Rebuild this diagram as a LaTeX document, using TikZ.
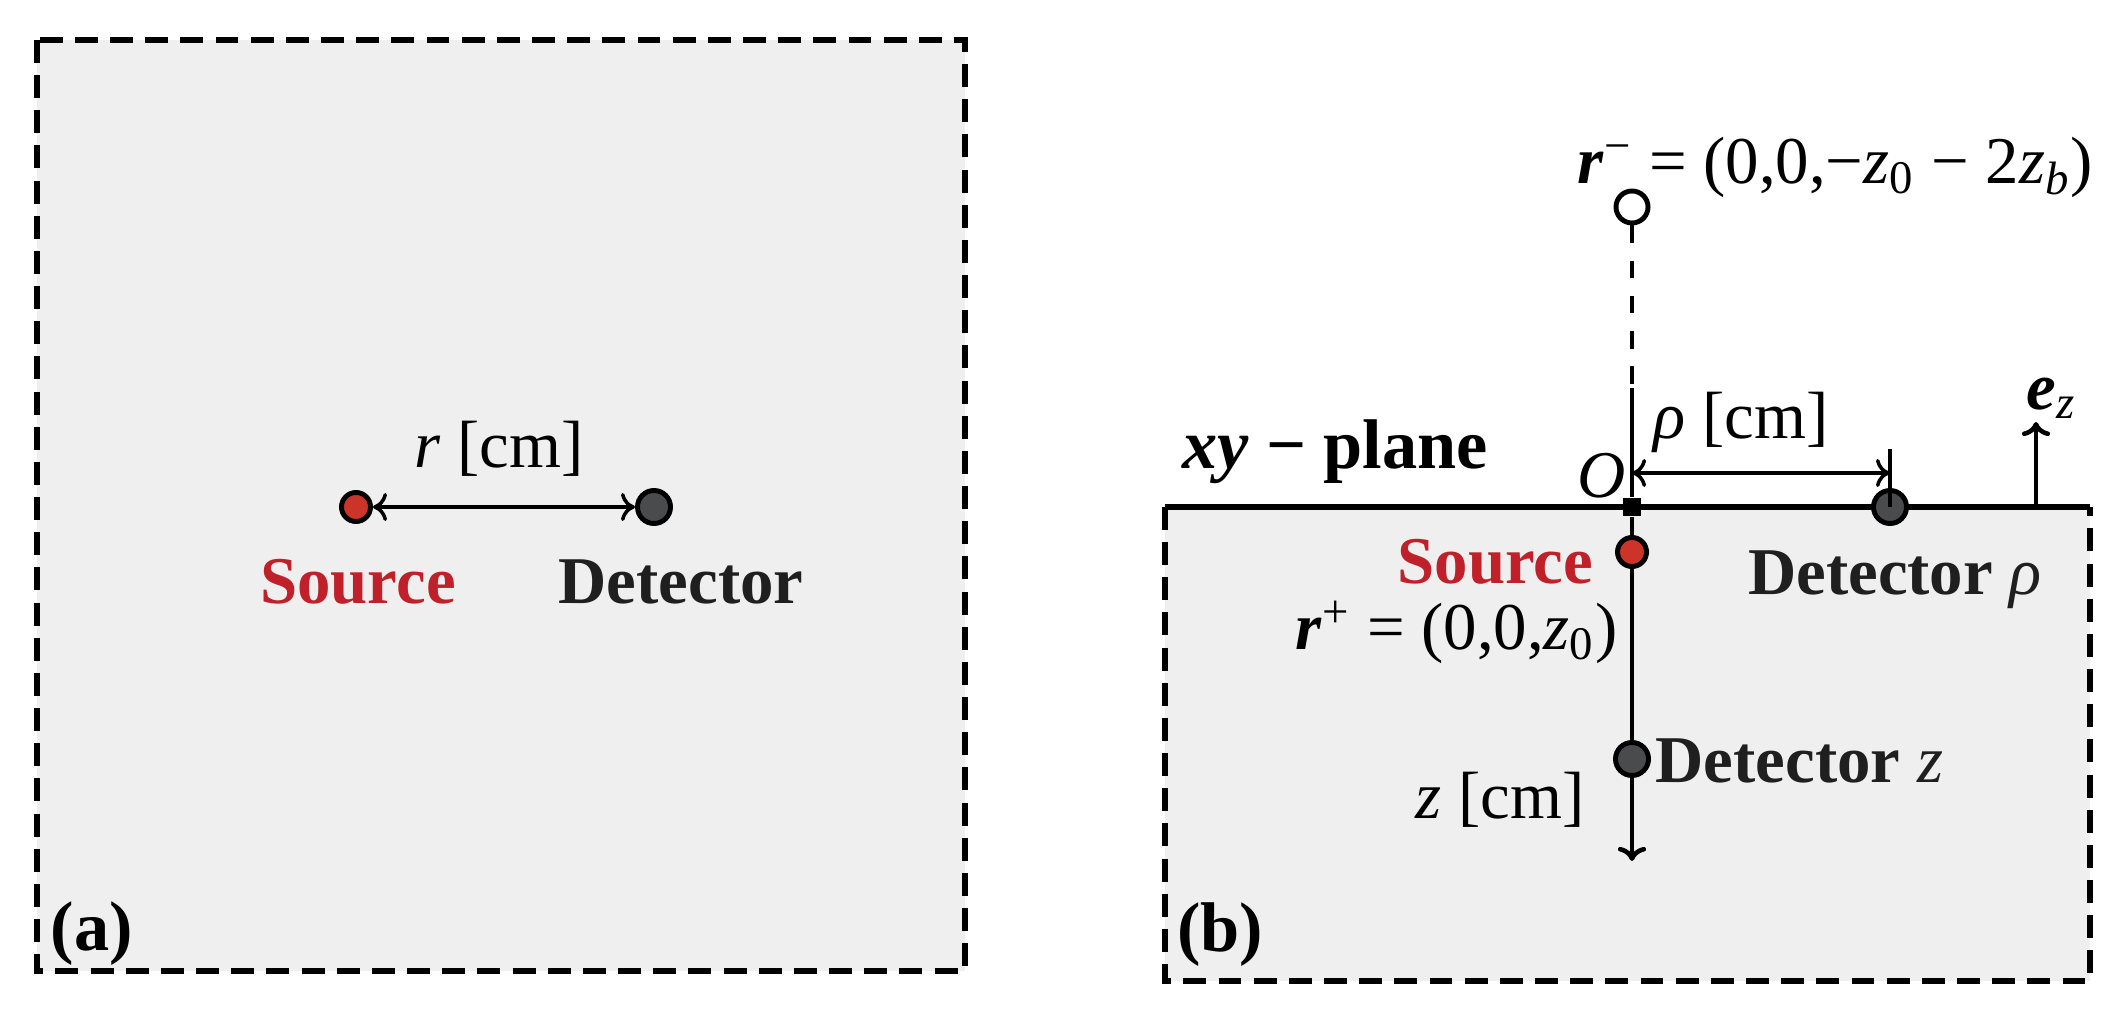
\documentclass[tikz,border=0pt]{standalone}
\usepackage{fontspec}
\setmainfont{Liberation Serif}
\usetikzlibrary{arrows.meta}
\begin{document}
\begin{tikzpicture}[x=0.01cm,y=-0.01cm,
  panel/.style={fill=panelgray,draw=black,line width=1.7pt,dash pattern=on 6.5pt off 3.5pt},
  lbl/.style={font=\fontsize{19}{21}\selectfont\bfseries,inner sep=0pt},
  mlbl/.style={font=\fontsize{19}{21}\selectfont,inner sep=0pt},
  srcdot/.style={circle,fill=srcred,draw=black,line width=1.4pt,minimum size=0.29cm,inner sep=0pt},
  detdot/.style={circle,fill=detgray,draw=black,line width=1.4pt,minimum size=0.33cm,inner sep=0pt},
  arr/.style={line width=1pt,-{To[length=4pt,width=8pt]}},
  darr/.style={line width=1pt,{To[length=4pt,width=8pt]}-{To[length=4pt,width=8pt]}}]
\definecolor{panelgray}{HTML}{EEEFEE}
\definecolor{srcred}{HTML}{CC3329}
\definecolor{detgray}{HTML}{4A4B4D}
\definecolor{txtred}{HTML}{C0202A}
\useasboundingbox (0,0) rectangle (2121,1010);
% panel a
\draw[panel] (37,40) rectangle (965,971);
\node[srcdot] (sa) at (356,507) {};
\node[detdot] (da) at (654,507) {};
\draw[darr] (sa) -- (da);
\node[mlbl] (ra) at (499,449) {\textit{r} [cm]};
\node[lbl,text=txtred] (sla) at (358,582) {Source};
\node[lbl,text=black!88] (dla) at (681,582) {Detector};
\node[lbl,font=\fontsize{20}{22}\selectfont\bfseries] (la) at (92,934) {(a)};
% panel b
\path[fill=panelgray] (1165,507) rectangle (2090,981);
\draw[panel] (1165,507) -- (1165,981) -- (2090,981) -- (2090,507);
\draw[line width=1.9pt] (1165,507) -- (2090,507);
\node[circle,draw=black,fill=white,line width=1.4pt,minimum size=0.32cm,inner sep=0pt] (img) at (1632,207) {};
\coordinate (dashend) at (1632,388);
\node[fill=black,minimum size=0.18cm,inner sep=0pt] (O) at (1632,507) {};
\draw[line width=1.3pt,dash pattern=on 5pt off 5pt] (img) -- (dashend);
\draw[line width=1.3pt] (dashend) -- (O);
\node[srcdot] (sb) at (1632,552) {};
\node[detdot] (dz) at (1632,759) {};
\coordinate (zend) at (1632,861);
\draw[line width=1.3pt] (O) -- (sb) -- (dz);
\draw[arr,line width=1.3pt] (dz) -- (zend);
\node[detdot] (drho) at (1890,507) {};
\coordinate (tick) at (1890,449);
\draw[line width=1pt] (tick) -- (drho.center);
\coordinate (rl) at (1632,473);
\coordinate (rr) at (1890,473);
\draw[darr] (rl) -- (rr);
\coordinate (ezb) at (2036,507);
\coordinate (ezt) at (2036,422);
\draw[arr,line width=1.3pt] (ezb) -- (ezt);
\node[mlbl,anchor=west] (ezl) at (2026,398) {\textbf{\textit{e}}\textsubscript{\textit{z}}};
\node[mlbl] (rhol) at (1741,422) {\textit{ρ} [cm]};
\node[mlbl] (Ol) at (1602,476) {\textit{O}};
\node[mlbl,anchor=west] (rm) at (1577,167) {\textbf{\textit{r}}\textsuperscript{−} = (0,0,−\textit{z}\textsubscript{0} − 2\textit{z}\textsubscript{\textit{b}})};
\node[lbl,font=\fontsize{20}{22}\selectfont\bfseries] (xy) at (1335,452) {\textit{xy} − plane};
\node[lbl,text=txtred,anchor=east] (slb) at (1594,562) {Source};
\node[lbl,text=black!88,anchor=center] (dlr) at (1895,580) {Detector \textmd{\textit{ρ}}};
\node[mlbl,anchor=east] (rp) at (1618,632) {\textbf{\textit{r}}\textsuperscript{+} = (0,0,\textit{z}\textsubscript{0})};
\node[lbl,text=black!88,anchor=west] (dzl) at (1655,761) {Detector \textmd{\textit{z}}};
\node[mlbl] (zl) at (1500,800) {\textit{z} [cm]};
\node[lbl,font=\fontsize{20}{22}\selectfont\bfseries] (lb) at (1220,935) {(b)};
\end{tikzpicture}
\end{document}
